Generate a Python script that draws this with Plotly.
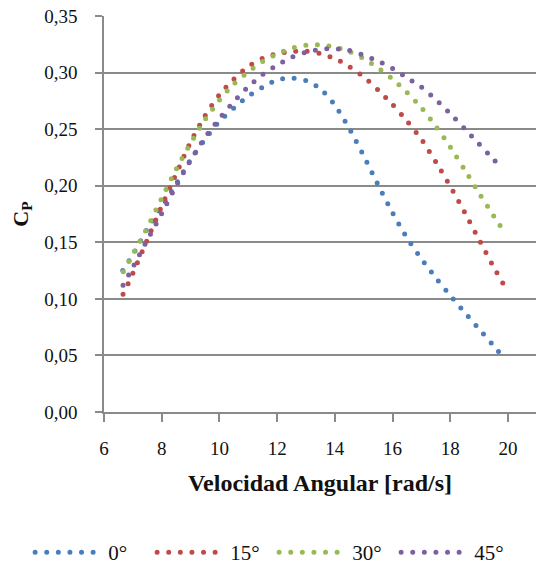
import plotly.graph_objects as go

# Power coefficient C_P against rotor angular speed, one curve per pitch angle
labels = ["0°", "15°", "30°", "45°"]
colors = ["#4A7EBB", "#BE4B48", "#98B954", "#7D60A0"]

x_0 = [6.65, 7.0, 7.5, 8.0, 8.5, 9.0, 9.5, 10.0, 10.5, 11.0, 11.5, 12.0, 12.5, 13.0,
       13.5, 14.0, 14.5, 15.0, 15.5, 16.0, 16.5, 17.0, 17.5, 18.0, 18.5, 19.0, 19.5, 19.85]
cp_0 = [0.125, 0.139, 0.162, 0.181, 0.2016, 0.223, 0.241, 0.257, 0.2686, 0.2792, 0.2872,
        0.2935, 0.2952, 0.293, 0.2857, 0.2713, 0.2505, 0.2265, 0.2006, 0.176, 0.1538,
        0.1354, 0.1185, 0.103, 0.088, 0.0733, 0.0585, 0.0484]

x_15 = [6.66, 7.0, 7.5, 8.0, 8.5, 9.0, 9.5, 10.0, 10.5, 11.0, 11.5, 12.0, 12.5, 13.0,
        13.5, 14.0, 14.5, 15.0, 15.5, 16.0, 16.5, 17.0, 17.5, 18.0, 18.5, 19.0, 19.5, 19.96]
cp_15 = [0.104, 0.1225, 0.1523, 0.182, 0.2104, 0.2386, 0.2618, 0.2805, 0.2942, 0.3055,
         0.3127, 0.3168, 0.3186, 0.319, 0.3167, 0.3125, 0.3053, 0.2962, 0.2846, 0.2718,
         0.2571, 0.241, 0.221, 0.1995, 0.1765, 0.1522, 0.1283, 0.1078]

x_30 = [6.67, 7.0, 7.5, 8.0, 8.5, 9.0, 9.5, 10.0, 10.5, 11.0, 11.5, 12.0, 12.5, 13.0,
        13.5, 14.0, 14.5, 15.0, 15.5, 16.0, 16.5, 17.0, 17.5, 18.0, 18.5, 19.0, 19.5, 19.87]
cp_30 = [0.124, 0.1395, 0.163, 0.189, 0.2145, 0.2375, 0.2583, 0.2757, 0.29, 0.3007,
         0.3098, 0.3165, 0.3215, 0.3242, 0.3245, 0.3226, 0.3185, 0.3123, 0.304, 0.2942,
         0.2825, 0.269, 0.2525, 0.2343, 0.214, 0.1934, 0.1735, 0.1591]

x_45 = [6.66, 7.0, 7.5, 8.0, 8.5, 9.0, 9.5, 10.0, 10.5, 11.0, 11.5, 12.0, 12.5, 13.0,
        13.5, 14.0, 14.5, 15.0, 15.5, 16.0, 16.5, 17.0, 17.5, 18.0, 18.5, 19.0, 19.5, 19.77]
cp_45 = [0.112, 0.128, 0.152, 0.1755, 0.1999, 0.2225, 0.2427, 0.2594, 0.2743, 0.2875,
         0.2983, 0.3066, 0.3134, 0.318, 0.3205, 0.3212, 0.3195, 0.3154, 0.3101, 0.3036,
         0.2955, 0.2871, 0.2762, 0.2637, 0.2503, 0.2368, 0.2232, 0.216]

x_ticks = [6, 8, 10, 12, 14, 16, 18, 20]
y_ticks = [0.0, 0.05, 0.10, 0.15, 0.20, 0.25, 0.30, 0.35]

series = [(x_0, cp_0), (x_15, cp_15), (x_30, cp_30), (x_45, cp_45)]

FONT = "Liberation Serif, DejaVu Serif, serif"
GRID = "#8A8A8A"

fig = go.Figure()
for (xs, ys), name, col in zip(series, labels, colors):
    fig.add_trace(go.Scatter(
        x=xs, y=ys, name=name, mode="lines",
        line=dict(color=col, width=5, dash="0px,11.6px", shape="spline", smoothing=0.6),
    ))

fig.update_layout(
    width=536, height=567,
    margin=dict(l=104, r=0, t=16, b=155, autoexpand=False),
    paper_bgcolor="white", plot_bgcolor="white",
    separators=", ",
    font=dict(family=FONT, size=19, color="#111111"),
    showlegend=True,
    # anchored left of the plot area so the single row may use the full width
    legend=dict(
        orientation="h", xref="paper", yref="paper",
        x=-0.171, xanchor="left", y=-0.355, yanchor="middle",
        font=dict(family=FONT, size=21, color="#111111"),
        itemwidth=68, entrywidth=39, tracegroupgap=0,
    ),
    xaxis=dict(
        range=[6, 20.97], tickvals=x_ticks, ticktext=[str(v) for v in x_ticks],
        showgrid=False, zeroline=False,
        showline=True, linecolor=GRID, linewidth=1.5,
        ticks="outside", ticklen=8, tickcolor=GRID, tickwidth=1.5,
        ticklabelstandoff=10,
        tickfont=dict(family=FONT, size=19),
        title=dict(text="<b>Velocidad Angular [rad/s]</b>",
                   font=dict(family=FONT, size=24), standoff=17),
    ),
    yaxis=dict(
        range=[0, 0.35], tickvals=y_ticks, tickformat=".2f",
        showgrid=True, gridcolor=GRID, gridwidth=1.5,
        zeroline=False,
        showline=True, linecolor=GRID, linewidth=1.5,
        ticks="outside", ticklen=7, tickcolor=GRID, tickwidth=1.5,
        ticklabelstandoff=14,
        tickfont=dict(family=FONT, size=19),
        title=dict(text="<b>C<sub>P</sub></b>",
                   font=dict(family=FONT, size=22), standoff=10),
    ),
)

# round line caps turn the zero-length dashes into round dots
post = """
var gd = document.getElementById('{plot_id}');
gd.querySelectorAll('path.js-line').forEach(function (p) {
    p.style.strokeLinecap = 'round';
});
"""

fig.write_html("out.html", post_script=post)
